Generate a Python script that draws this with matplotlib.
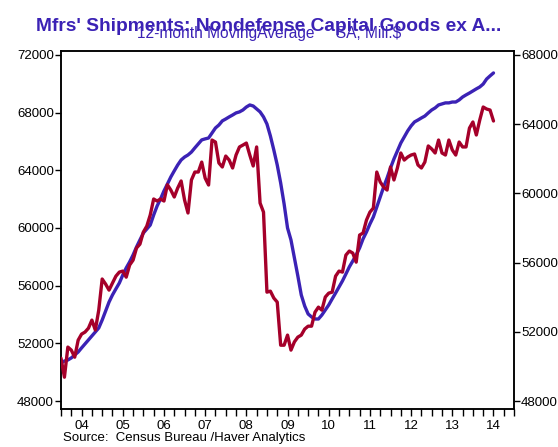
import numpy as np
import matplotlib
matplotlib.use('Agg')
from matplotlib import pyplot as plt
from matplotlib.ticker import MultipleLocator, FixedLocator, NullFormatter

plt.rcParams['font.family'] = ['Liberation Sans', 'DejaVu Sans']

# Monthly data, Jan 2004 .. Jul 2014
shipments = [  # left axis, Mil.$
    50970, 49650, 51740, 51530, 51040, 52220, 52640, 52780, 53050, 53610, 52920, 54300,
    56460, 56110, 55690, 56180, 56660, 56940, 57010, 56590, 57430, 57770, 58610, 58880,
    59720, 60130, 60900, 62010, 61870, 62010, 61870, 63000, 62630, 62150, 62770, 63260,
    61940, 61040, 63330, 63880, 63880, 64570, 63460, 62980, 66100, 65960, 64510, 64230,
    64990, 64710, 64160, 65060, 65620, 65750, 65890, 65060, 64300, 65620, 61730, 61100,
    55550, 55620, 55140, 54860, 51870, 51870, 52570, 51530, 52100, 52430, 52570, 52990,
    53190, 53190, 54160, 54510, 54300, 55210, 55480, 55550, 56660, 57010, 56940, 58120,
    58400, 58260, 57630, 59510, 59650, 60550, 61100, 61380, 63880, 63190, 62840, 62630,
    64230, 63330, 64160, 65200, 64710, 64920, 65060, 65130, 64370, 64160, 64570, 65690,
    65480, 65200, 66100, 65200, 65060, 66100, 65410, 65060, 65960, 65620, 65620, 66930,
    67350, 66450, 67490, 68390, 68250, 68180, 67420,
]
moving_avg = [  # right axis, 12-month moving average
    50200, 50310, 50370, 50490, 50660, 50830, 51070, 51300, 51530, 51760, 51990, 52220,
    52680, 53200, 53720, 54130, 54480, 54820, 55280, 55690, 56040, 56440, 56900, 57310,
    57710, 57940, 58170, 58750, 59270, 59680, 60140, 60540, 60950, 61300, 61640, 61930,
    62100, 62220, 62390, 62630, 62860, 63090, 63150, 63200, 63490, 63780, 63950, 64190,
    64300, 64420, 64530, 64650, 64710, 64820, 64990, 65110, 65050, 64880, 64710, 64420,
    64010, 63320, 62510, 61640, 60600, 59390, 58000, 57310, 56270, 55230, 54130, 53490,
    53030, 52860, 52740, 52740, 52970, 53260, 53550, 53900, 54240, 54590, 54940, 55340,
    55750, 56090, 56440, 56850, 57370, 57770, 58230, 58640, 59210, 59790, 60370, 60890,
    61470, 61990, 62450, 62910, 63260, 63610, 63900, 64130, 64240, 64360, 64470, 64650,
    64820, 64940, 65110, 65170, 65230, 65230, 65280, 65280, 65400, 65570, 65690, 65800,
    65920, 66040, 66150, 66320, 66610, 66790, 66960,
]
start_year = 2004
year_labels = ['04', '05', '06', '07', '08', '09', '10', '11', '12', '13', '14']
left_ticks = [48000, 52000, 56000, 60000, 64000, 68000, 72000]
right_ticks = [48000, 52000, 56000, 60000, 64000, 68000]

red = '#a5002a'
purple = '#3b22b5'

t = start_year + np.arange(len(shipments)) / 12.0

fig = plt.figure(figsize=(5.58, 4.47), dpi=100)
ax = fig.add_axes([0.1093, 0.085, 0.812, 0.801])
ax2 = ax.twinx()

ax2.plot(t, moving_avg, color=purple, lw=2.4, solid_capstyle='round', zorder=2)
ax.plot(t, shipments, color=red, lw=2.4, solid_capstyle='round', zorder=3)
ax.set_zorder(ax2.get_zorder() + 1)
ax.patch.set_visible(False)

ax.set_xlim(2004, 2015)
ax.set_ylim(47445, 72278)
ax2.set_ylim(47538, 68231)

ax.set_yticks(left_ticks)
ax.set_yticklabels([str(v) for v in left_ticks])
ax2.set_yticks(right_ticks)
ax2.set_yticklabels([str(v) for v in right_ticks])

# quarterly tick marks, year labels centred in each year
ax.xaxis.remove_overlapping_locs = False
ax.xaxis.set_major_locator(MultipleLocator(0.25))
ax.xaxis.set_major_formatter(NullFormatter())
ax.xaxis.set_minor_locator(FixedLocator([start_year + i + 0.5 for i in range(len(year_labels))]))
ax.set_xticklabels(year_labels, minor=True)
ax.tick_params(axis='x', which='minor', length=0, pad=8, labelsize=9.5)
ax.tick_params(axis='x', which='major', direction='out', length=5, width=1)
ax.tick_params(axis='y', direction='out', length=4, width=1, labelsize=9.5, pad=1)
ax2.tick_params(axis='y', direction='out', length=4, width=1, labelsize=9.5, pad=1)

for a in (ax, ax2):
    for s in a.spines.values():
        s.set_linewidth(1.1)

fig.text(0.482, 0.931, "Mfrs' Shipments: Nondefense Capital Goods ex A...",
         ha='center', va='baseline', color=purple, fontsize=13.8, fontweight='bold')
fig.text(0.483, 0.914, "12-month MovingAverage     SA, Mill.$",
         ha='center', va='baseline', color=purple, fontsize=11.2)
fig.text(0.113, 0.006, "Source:  Census Bureau /Haver Analytics",
         ha='left', va='bottom', fontsize=9.5)

fig.savefig('out.png', dpi=100)
